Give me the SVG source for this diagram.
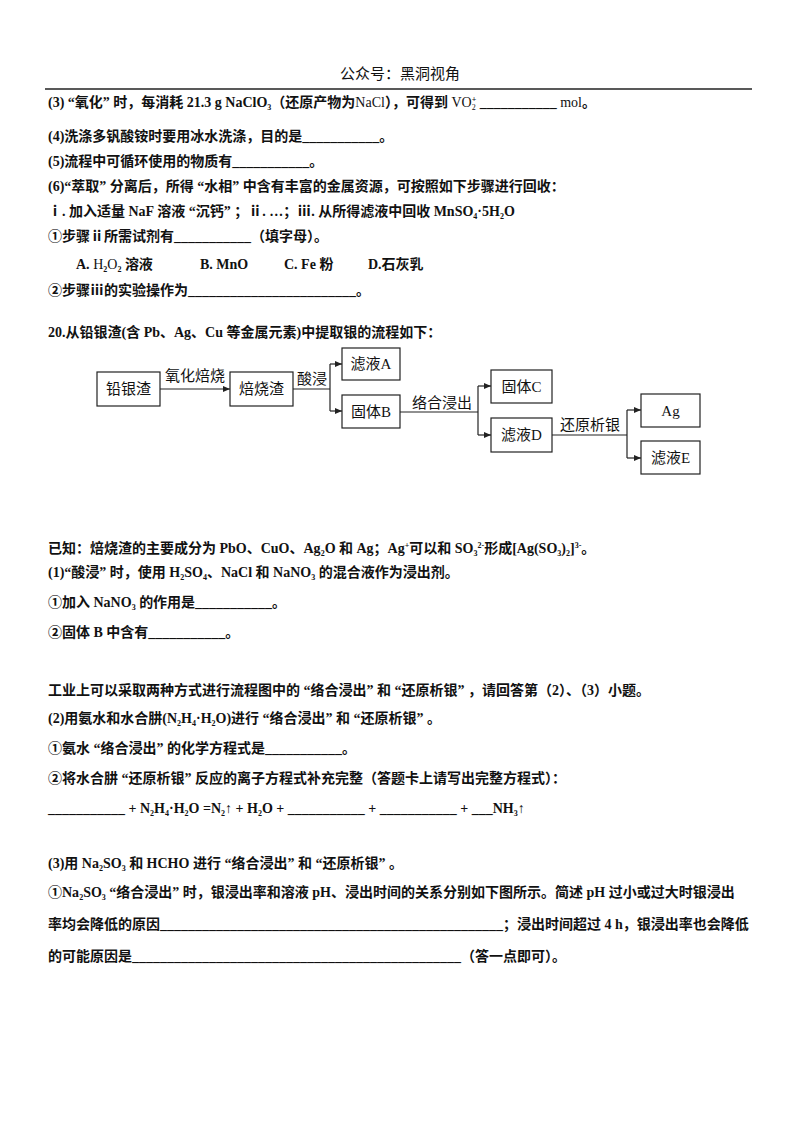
<svg xmlns="http://www.w3.org/2000/svg" width="800" height="1132" viewBox="0 0 800 1132">
<defs>
<style>
text{font-family:"Liberation Serif","Noto Sans CJK SC",serif;font-size:14px;font-weight:bold;fill:#111}
.fl{font-size:15px;font-weight:normal;font-family:"Liberation Serif","Noto Sans CJK SC",serif}
.b{fill:#fff;stroke:#222;stroke-width:1.2}
.c{fill:none;stroke:#222;stroke-width:1.2}
.s{font-size:8px}
</style>
<marker id="a" markerWidth="8" markerHeight="8" refX="7" refY="4" orient="auto" markerUnits="userSpaceOnUse"><path d="M0,1 L7,4 L0,7 Z" fill="#222"/></marker>
</defs>
<rect width="800" height="1132" fill="#fff"/>
<text x="400" y="79" text-anchor="middle" style="font-weight:normal;font-size:15px">公众号：黑洞视角</text>
<line x1="45" y1="89" x2="752" y2="89" stroke="#222" stroke-width="1.5"/>
<text x="48" y="107">(3) “氧化” 时，每消耗 21.3 g NaClO<tspan class="s" dy="3">3</tspan><tspan dy="-3">（还原产物为</tspan><tspan style="font-weight:normal">NaCl</tspan>），可得到 <tspan style="font-weight:normal">VO</tspan><tspan class="s" dy="3" style="font-weight:normal">2</tspan><tspan class="s" dy="-8" dx="-4">+</tspan><tspan dy="5"> ___________ </tspan><tspan style="font-weight:normal">mol</tspan>。</text>
<text x="48" y="141">(4)洗涤多钒酸铵时要用冰水洗涤，目的是___________。</text>
<text x="48" y="166">(5)流程中可循环使用的物质有___________。</text>
<text x="48" y="191">(6)“萃取” 分离后，所得 “水相” 中含有丰富的金属资源，可按照如下步骤进行回收：</text>
<text x="48" y="216">ⅰ. 加入适量 NaF 溶液 “沉钙” ；ⅱ. …；ⅲ. 从所得滤液中回收 MnSO<tspan class="s" dy="3">4</tspan><tspan dy="-3">·5H</tspan><tspan class="s" dy="3">2</tspan><tspan dy="-3">O</tspan></text>
<text x="48" y="241">①步骤ⅱ所需试剂有___________（填字母）。</text>
<text x="76" y="269">A. <tspan style="font-weight:normal">H</tspan><tspan class="s" dy="3">2</tspan><tspan dy="-3" style="font-weight:normal">O</tspan><tspan class="s" dy="3">2</tspan><tspan dy="-3"> 溶液</tspan></text>
<text x="200" y="269">B. MnO</text>
<text x="284" y="269">C. Fe 粉</text>
<text x="368" y="269">D.石灰乳</text>
<text x="48" y="295">②步骤ⅲ的实验操作为________________________。</text>
<text x="48" y="337">20.从铅银渣(含 Pb、Ag、Cu 等金属元素)中提取银的流程如下：</text>
<g id="connectors">
<line class="c" x1="160" y1="389" x2="230" y2="389" marker-end="url(#a)"/>
<text class="fl" x="195" y="381" text-anchor="middle">氧化焙烧</text>
<polyline class="c" points="293,389 330,389"/>
<line class="c" x1="330" y1="364" x2="330" y2="411"/>
<line class="c" x1="330" y1="364" x2="342" y2="364" marker-end="url(#a)"/>
<line class="c" x1="330" y1="411" x2="342" y2="411" marker-end="url(#a)"/>
<text class="fl" x="312" y="384" text-anchor="middle">酸浸</text>
<line class="c" x1="400" y1="412" x2="478" y2="412"/>
<line class="c" x1="478" y1="386" x2="478" y2="435"/>
<line class="c" x1="478" y1="386" x2="491" y2="386" marker-end="url(#a)"/>
<line class="c" x1="478" y1="435" x2="491" y2="435" marker-end="url(#a)"/>
<text class="fl" x="442" y="408" text-anchor="middle">络合浸出</text>
<line class="c" x1="552" y1="435" x2="627" y2="435"/>
<line class="c" x1="627" y1="410" x2="627" y2="458"/>
<line class="c" x1="627" y1="410" x2="641" y2="410" marker-end="url(#a)"/>
<line class="c" x1="627" y1="458" x2="641" y2="458" marker-end="url(#a)"/>
<text class="fl" x="590" y="430" text-anchor="middle">还原析银</text>
</g>
<g id="n1"><rect class="b" x="97" y="372" width="63" height="34"/><text class="fl" x="128.5" y="394" text-anchor="middle">铅银渣</text></g>
<g id="n2"><rect class="b" x="230" y="372" width="63" height="34"/><text class="fl" x="261.5" y="394" text-anchor="middle">焙烧渣</text></g>
<g id="n3"><rect class="b" x="342" y="348" width="58" height="32"/><text class="fl" x="371" y="369" text-anchor="middle">滤液A</text></g>
<g id="n4"><rect class="b" x="342" y="395" width="58" height="33"/><text class="fl" x="371" y="417" text-anchor="middle">固体B</text></g>
<g id="n5"><rect class="b" x="491" y="370" width="61" height="33"/><text class="fl" x="521.5" y="392" text-anchor="middle">固体C</text></g>
<g id="n6"><rect class="b" x="491" y="418" width="61" height="34"/><text class="fl" x="521.5" y="440" text-anchor="middle">滤液D</text></g>
<g id="n7"><rect class="b" x="641" y="394" width="59" height="33"/><text class="fl" x="670.5" y="416" text-anchor="middle">Ag</text></g>
<g id="n8"><rect class="b" x="641" y="441" width="59" height="33"/><text class="fl" x="670.5" y="463" text-anchor="middle">滤液E</text></g>
<text x="48" y="553">已知：焙烧渣的主要成分为 PbO、CuO、Ag<tspan class="s" dy="3">2</tspan><tspan dy="-3">O 和 Ag；Ag</tspan><tspan class="s" dy="-5">+</tspan><tspan dy="5">可以和 SO</tspan><tspan class="s" dy="3">3</tspan><tspan class="s" dy="-8">2-</tspan><tspan dy="5">形成[Ag(SO</tspan><tspan class="s" dy="3">3</tspan><tspan dy="-3">)</tspan><tspan class="s" dy="3">2</tspan><tspan dy="-3">]</tspan><tspan class="s" dy="-5">3-</tspan><tspan dy="5">。</tspan></text>
<text x="48" y="577">(1)“酸浸” 时，使用 H<tspan class="s" dy="3">2</tspan><tspan dy="-3">SO</tspan><tspan class="s" dy="3">4</tspan><tspan dy="-3">、NaCl 和 NaNO</tspan><tspan class="s" dy="3">3</tspan><tspan dy="-3"> 的混合液作为浸出剂。</tspan></text>
<text x="48" y="607">①加入 NaNO<tspan class="s" dy="3">3</tspan><tspan dy="-3"> 的作用是___________。</tspan></text>
<text x="48" y="637">②固体 B 中含有___________。</text>
<text x="48" y="695">工业上可以采取两种方式进行流程图中的 “络合浸出” 和 “还原析银” ，请回答第（2）、（3）小题。</text>
<text x="48" y="723">(2)用氨水和水合肼(N<tspan class="s" dy="3">2</tspan><tspan dy="-3">H</tspan><tspan class="s" dy="3">4</tspan><tspan dy="-3">·H</tspan><tspan class="s" dy="3">2</tspan><tspan dy="-3">O)进行 “络合浸出” 和 “还原析银” 。</tspan></text>
<text x="48" y="753">①氨水 “络合浸出” 的化学方程式是___________。</text>
<text x="48" y="783">②将水合肼 “还原析银” 反应的离子方程式补充完整（答题卡上请写出完整方程式）：</text>
<text x="48" y="813">___________ + N<tspan class="s" dy="3">2</tspan><tspan dy="-3">H</tspan><tspan class="s" dy="3">4</tspan><tspan dy="-3">·H</tspan><tspan class="s" dy="3">2</tspan><tspan dy="-3">O =N</tspan><tspan class="s" dy="3">2</tspan><tspan dy="-3">↑ + H</tspan><tspan class="s" dy="3">2</tspan><tspan dy="-3">O + ___________ + ___________ + ___NH</tspan><tspan class="s" dy="3">3</tspan><tspan dy="-3">↑</tspan></text>
<text x="48" y="868">(3)用 Na<tspan class="s" dy="3">2</tspan><tspan dy="-3">SO</tspan><tspan class="s" dy="3">3</tspan><tspan dy="-3"> 和 HCHO 进行 “络合浸出” 和 “还原析银” 。</tspan></text>
<text x="48" y="897">①Na<tspan class="s" dy="3">2</tspan><tspan dy="-3">SO</tspan><tspan class="s" dy="3">3</tspan><tspan dy="-3"> “络合浸出” 时，银浸出率和溶液 pH、浸出时间的关系分别如下图所示。简述 pH 过小或过大时银浸出</tspan></text>
<text x="48" y="929">率均会降低的原因_________________________________________________；浸出时间超过 4 h，银浸出率也会降低</text>
<text x="48" y="961">的可能原因是_______________________________________________（答一点即可）。</text>
</svg>
